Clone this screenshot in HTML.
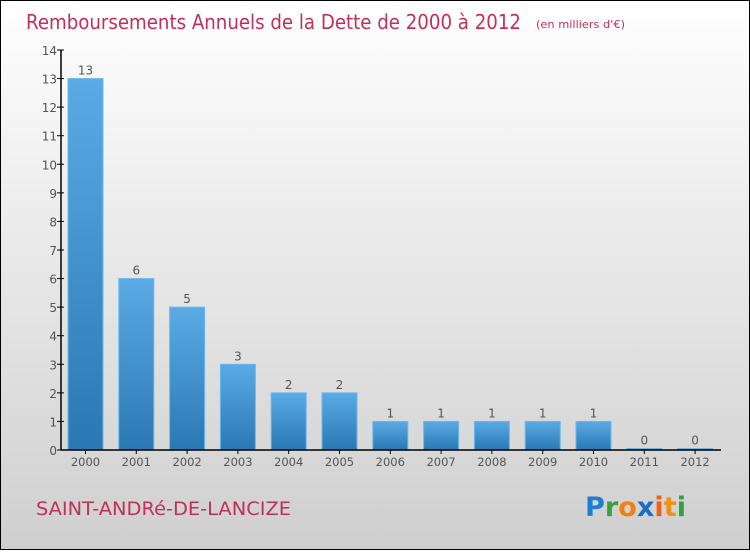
<!DOCTYPE html>
<html><head><meta charset="utf-8"><style>
html,body{margin:0;padding:0}
body{width:750px;height:550px;overflow:hidden;font-family:"DejaVu Sans","Liberation Sans",sans-serif}
</style></head><body>
<svg id="chart" width="750" height="550" xmlns="http://www.w3.org/2000/svg">
<defs>
<linearGradient id="bg" x1="0" y1="0" x2="0" y2="1"><stop offset="0" stop-color="#ffffff"/><stop offset="1" stop-color="#cfcfcf"/></linearGradient>
<linearGradient id="bar" x1="0" y1="0" x2="0" y2="1"><stop offset="0" stop-color="#5aabe5"/><stop offset="1" stop-color="#2a78b3"/></linearGradient>
</defs>
<rect x="0.5" y="0.5" width="749" height="549" fill="url(#bg)" stroke="#000"/>
<text x="26" y="29" font-size="20" fill="#c0305a" textLength="495" lengthAdjust="spacingAndGlyphs">Remboursements Annuels de la Dette de 2000 à 2012</text>
<text x="536" y="28" font-size="11" fill="#c0305a" textLength="89" lengthAdjust="spacingAndGlyphs">(en milliers d'€)</text>
<g id="plot"></g>
<text x="36" y="515" font-size="19" fill="#c0305a" textLength="255" lengthAdjust="spacingAndGlyphs">SAINT-ANDRé-DE-LANCIZE</text>
<g font-size="27" font-family="DejaVu Sans, sans-serif" font-weight="bold">
<text x="585" y="516" textLength="101" lengthAdjust="spacingAndGlyphs"><tspan fill="#1a7fd4">P</tspan><tspan fill="#3aa040">r</tspan><tspan fill="#f08010">o</tspan><tspan fill="#1a6fc4">x</tspan><tspan fill="#f06010">i</tspan><tspan fill="#f09010">t</tspan><tspan fill="#30a040">i</tspan></text>
</g>
</svg>
<script>
const categories=["2000","2001","2002","2003","2004","2005","2006","2007","2008","2009","2010","2011","2012"];
const values=[13,6,5,3,2,2,1,1,1,1,1,0,0];
const yTicks=[0,1,2,3,4,5,6,7,8,9,10,11,12,13,14];
const NS="http://www.w3.org/2000/svg";
const g=document.getElementById('plot');
const y0=450,yTop=50,yMax=14,x0=61,step=50.8,first=85.5,bw=35;
const yS=v=>y0-(v/yMax)*(y0-yTop);
const xS=i=>first+i*step;
function mk(t,a){const e=document.createElementNS(NS,t);for(const k in a)e.setAttribute(k,a[k]);g.appendChild(e);return e;}
yTicks.forEach(v=>{
  const l=mk('line',{x1:57,x2:64,y1:yS(v),y2:yS(v),stroke:'#000'});
  
  
  const t=mk('text',{x:57,y:yS(v)+5,'text-anchor':'end','font-size':12,fill:'#555'});
  t.textContent=v;
  
  
});
categories.forEach((c,i)=>{
  const v=values[i];const h=Math.max(y0-yS(v),1.5);
  const r=mk('rect',{x:xS(i)-bw/2,y:y0-h,width:bw,height:h,fill:'url(#bar)',stroke:'#6bb8ee','stroke-width':1});
  
  
  const t=mk('text',{x:xS(i),y:y0-h-4,'text-anchor':'middle','font-size':12,fill:'#555'});
  t.textContent=v;
  
  
  const tk=mk('line',{x1:xS(i),x2:xS(i),y1:y0,y2:y0+4,stroke:'#000'});
  
  
  const xl=mk('text',{x:xS(i),y:466,'text-anchor':'middle','font-size':11.5,fill:'#555'});
  xl.textContent=c;
  
  
});
const ya=mk('line',{x1:x0,x2:x0,y1:yTop,y2:y0,stroke:'#000','stroke-width':1.5});


const xa=mk('line',{x1:x0,x2:721,y1:y0,y2:y0,stroke:'#000','stroke-width':1.5});


</script>
</body></html>
